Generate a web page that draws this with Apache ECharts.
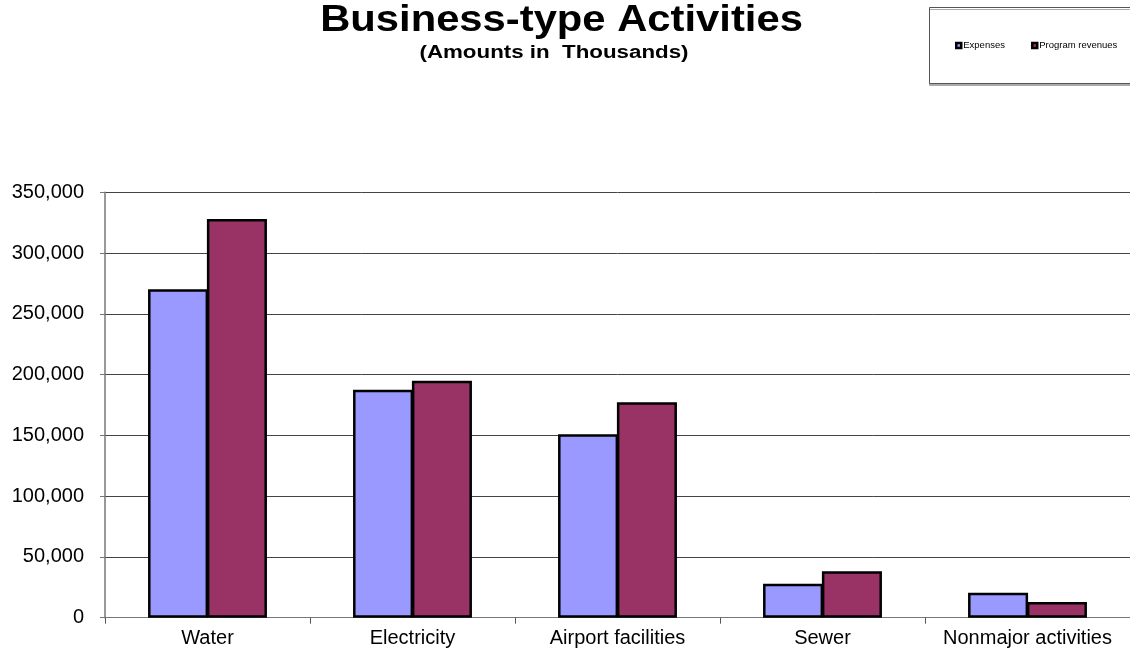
<!DOCTYPE html>
<html>
<head>
<meta charset="utf-8">
<script src="https://cdn.jsdelivr.net/npm/echarts@6/dist/echarts.min.js"></script>
<style>
html,body{margin:0;padding:0;background:#fff;}
#chart{width:1130px;height:655px;}
</style>
</head>
<body>
<div id="chart"></div>
<script>
const titleText = 'Business-type Activities';
const subtitleText = '(Amounts in  Thousands)';
const categories = ['Water', 'Electricity', 'Airport facilities', 'Sewer', 'Nonmajor activities'];
const seriesNames = ['Expenses', 'Program revenues'];
const expenses = [270200, 187600, 150900, 28000, 20600];
const revenues = [328000, 195000, 177200, 38200, 12900];
const yMin = 0, yMax = 350000, yStep = 50000;

const FONT = '"Liberation Sans", Arial, Helvetica, sans-serif';
const chart = echarts.init(document.getElementById('chart'), null, {renderer: 'canvas'});

chart.setOption({
  backgroundColor: '#ffffff',
  animation: false,
  graphic: [
    {
      type: 'rect', left: 929, top: 7, z: 0,
      shape: {x: 0, y: 0, width: 215, height: 76},
      style: {fill: '#ffffff', stroke: '#555555', lineWidth: 1,
               shadowColor: '#aaaaaa', shadowOffsetX: 0, shadowOffsetY: 2, shadowBlur: 0}
    },
    {
      type: 'text', x: 561.5, y: 3, scaleX: 1.16,
      style: {text: titleText, font: 'bold 36px ' + FONT, fill: '#000', align: 'center', verticalAlign: 'top'}
    },
    {
      type: 'text', x: 554, y: 44.5, scaleX: 1.24,
      style: {text: subtitleText, font: 'bold 18px ' + FONT, fill: '#000', align: 'center', verticalAlign: 'top'}
    }
  ],
  legend: {
    left: 955, top: 40.5, padding: 0, itemWidth: 5, itemHeight: 5, itemGap: 26,
    icon: 'rect',
    itemStyle: {borderColor: '#000', borderWidth: 2.5},
    textStyle: {fontFamily: FONT, fontSize: 9.5, color: '#000', padding: [0, 0, 0, -3]},
    data: seriesNames
  },
  grid: {left: 105, top: 192.3, width: 1028, height: 425.4, containLabel: false},
  xAxis: {
    type: 'category',
    data: categories,
    boundaryGap: true,
    axisLine: {show: true, lineStyle: {color: '#777', width: 1}},
    axisTick: {show: true, length: 6, lineStyle: {color: '#555'}},
    axisLabel: {color: '#000', fontFamily: FONT, fontSize: 20, margin: 11, interval: 0}
  },
  yAxis: {
    type: 'value',
    min: yMin, max: yMax, interval: yStep,
    axisLine: {show: true, lineStyle: {color: '#777', width: 1.5}},
    axisTick: {show: true, length: 5, lineStyle: {color: '#777'}},
    axisLabel: {
      color: '#000', fontFamily: FONT, fontSize: 20, margin: 21,
      formatter: v => v.toLocaleString('en-US')
    },
    splitLine: {show: true, lineStyle: {color: '#444', width: 1}}
  },
  series: [
    {
      name: seriesNames[0], type: 'bar', data: expenses,
      barGap: '-2%', barCategoryGap: '42%',
      itemStyle: {color: '#9999FF', borderColor: '#000', borderWidth: 2.5}
    },
    {
      name: seriesNames[1], type: 'bar', data: revenues,
      barGap: '-2%', barCategoryGap: '42%',
      itemStyle: {color: '#993366', borderColor: '#000', borderWidth: 2.5}
    }
  ]
});
</script>
</body>
</html>
